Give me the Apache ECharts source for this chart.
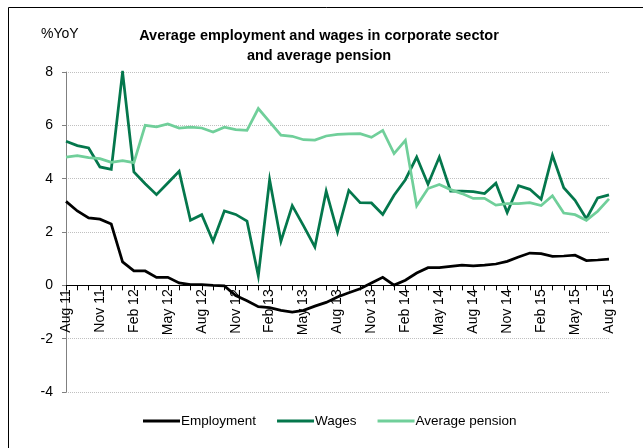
<!DOCTYPE html>
<html>
<head>
<meta charset="utf-8">
<script src="https://cdn.jsdelivr.net/npm/echarts@6/dist/echarts.min.js"></script>
<style>
  html, body { margin: 0; padding: 0; background: #fff; }
  #chart { width: 643px; height: 448px; }
</style>
</head>
<body>
<div id="chart"></div>
<script>
// Monthly categories, Aug 2011 – Aug 2015
const monthNames = ['Jan', 'Feb', 'Mar', 'Apr', 'May', 'Jun', 'Jul', 'Aug', 'Sep', 'Oct', 'Nov', 'Dec'];
const categories = [];
for (let y = 2011, m = 7; y < 2015 || (y === 2015 && m <= 7); m++) {
  if (m === 12) { m = 0; y++; }
  categories.push(monthNames[m] + ' ' + String(y).slice(2));
}

// Year-on-year changes, %
const employment = [
  3.15, 2.79, 2.53, 2.48, 2.30, 0.88, 0.54, 0.54, 0.30, 0.30, 0.09, 0.03,
  0.03, 0.00, -0.02, -0.38, -0.58, -0.80, -0.84, -0.94, -1.00, -0.94, -0.78, -0.64,
  -0.44, -0.28, -0.13, 0.09, 0.30, 0.01, 0.19, 0.46, 0.66, 0.66, 0.71, 0.76,
  0.73, 0.76, 0.80, 0.90, 1.06, 1.21, 1.19, 1.09, 1.10, 1.13, 0.93, 0.95, 0.98
];
const wages = [
  5.40, 5.24, 5.15, 4.44, 4.35, 8.00, 4.25, 3.81, 3.40, 3.84, 4.28, 2.44,
  2.65, 1.65, 2.79, 2.66, 2.41, 0.35, 3.96, 1.65, 2.99, 2.23, 1.44, 3.53,
  2.00, 3.56, 3.10, 3.09, 2.66, 3.38, 3.96, 4.81, 3.79, 4.81, 3.53, 3.53,
  3.51, 3.44, 3.83, 2.73, 3.74, 3.60, 3.23, 4.88, 3.66, 3.19, 2.50, 3.28, 3.39
];
const pension = [
  4.81, 4.86, 4.79, 4.75, 4.61, 4.68, 4.60, 6.00, 5.94, 6.05, 5.90, 5.93,
  5.90, 5.75, 5.93, 5.84, 5.81, 6.63, 6.13, 5.63, 5.59, 5.46, 5.45, 5.60,
  5.66, 5.68, 5.69, 5.55, 5.81, 4.94, 5.44, 2.98, 3.63, 3.78, 3.59, 3.44,
  3.26, 3.26, 3.01, 3.06, 3.06, 3.10, 2.99, 3.36, 2.71, 2.65, 2.44, 2.78, 3.24
];

const Y_MIN = -4, Y_MAX = 8;
const GRID_TOP = 72, GRID_BOTTOM = 56, CHART_H = 448;
// the category axis sits on the zero line: shift it up from the grid bottom
const plotH = CHART_H - GRID_TOP - GRID_BOTTOM;
const zeroShift = plotH * (0 - Y_MIN) / (Y_MAX - Y_MIN);

const FONT = '"Liberation Sans", Arial, sans-serif';
const chart = echarts.init(document.getElementById('chart'), null, { renderer: 'canvas' });

const mkLine = (name, data, color) => ({
  name, type: 'line', data,
  symbol: 'none', smooth: false,
  lineStyle: { color, width: 2.75, join: 'miter' },
  itemStyle: { color },
  animation: false
});

chart.setOption({
  animation: false,
  backgroundColor: '#ffffff',
  title: {
    text: 'Average employment and wages in corporate sector\nand average pension',
    left: 314, top: 21, textAlign: 'center',
    textStyle: { fontFamily: FONT, fontSize: 14.5, fontWeight: 'bold', color: '#000', lineHeight: 20 }
  },
  graphic: [
    {
      type: 'rect', left: 6, top: 5, silent: true,
      shape: { width: 660, height: 460 },
      style: { fill: 'none', stroke: '#000', lineWidth: 1 }
    },
    {
      type: 'text', left: 41, top: 27, silent: true,
      style: { text: '%YoY', font: '14px ' + FONT, fill: '#000' }
    }
  ],
  legend: {
    top: 414, left: 143, padding: 0,
    icon: 'rect', itemWidth: 37, itemHeight: 3, itemGap: 21,
    textStyle: { fontFamily: FONT, fontSize: 13.5, color: '#000', padding: [0, 0, 0, -4] },
    data: ['Employment', 'Wages', 'Average pension']
  },
  grid: { left: 66, right: 34, top: GRID_TOP, bottom: GRID_BOTTOM, containLabel: false },
  xAxis: {
    type: 'category', data: categories, boundaryGap: false,
    position: 'bottom', offset: -zeroShift,
    axisLine: { onZero: false, lineStyle: { color: '#000', width: 1 } },
    axisTick: { show: true, interval: 0, length: 5, lineStyle: { color: '#000' } },
    axisLabel: {
      interval: 2, rotate: 90, margin: 4,
      fontFamily: FONT, fontSize: 14, color: '#000'
    },
    splitLine: { show: false }
  },
  yAxis: {
    type: 'value', min: Y_MIN, max: Y_MAX, interval: 2,
    axisLine: { show: true, lineStyle: { color: '#808080', width: 1 } },
    axisTick: { show: true, length: 4, lineStyle: { color: '#808080' } },
    axisLabel: { margin: 13, fontFamily: FONT, fontSize: 14, color: '#000' },
    splitLine: { show: true, lineStyle: { color: '#c0c0c0', type: 'dotted', width: 1 } }
  },
  series: [
    mkLine('Employment', employment, '#000000'),
    mkLine('Wages', wages, '#04774c'),
    mkLine('Average pension', pension, '#70cf9a')
  ]
});
</script>
</body>
</html>
